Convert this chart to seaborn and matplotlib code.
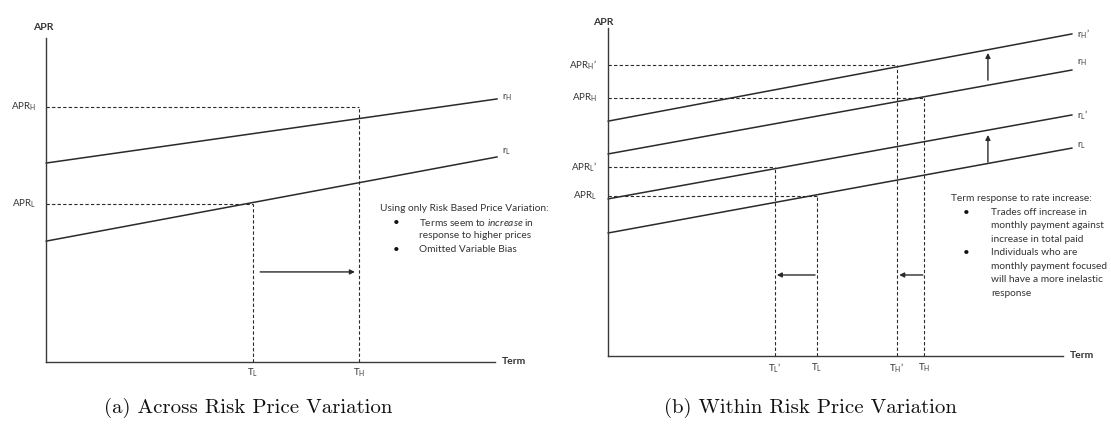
import matplotlib
matplotlib.use("Agg")
import matplotlib.pyplot as plt
import seaborn as sns
import pandas as pd

sns.set_theme(style="white")
plt.rcParams["font.family"] = ["Lato", "DejaVu Sans"]
plt.rcParams["mathtext.fontset"] = "custom"
plt.rcParams["mathtext.rm"] = "Lato"
plt.rcParams["mathtext.it"] = "Lato:italic"
plt.rcParams["mathtext.bf"] = "Lato:bold"

INK = "#2a2a2a"
TXT = "#333333"

# ---- Panel (a): across-risk price variation ----
a_term = [0, 100.5]
a_rH = [61.4, 81.2]
a_rL = [37.3, 63.3]
a_T = {"T_L": 46.1, "T_H": 69.7}
a_APR = {"APR_L": 48.8, "APR_H": 78.7}
a_arrow_y = 27.8
a_arrow_x = [47.7, 68.8]
a_note_title = "Using only Risk Based Price Variation:"
a_note_items = [["Terms seem to $\\it{increase}$ in", "response to higher prices"],
                ["Omitted Variable Bias"]]

# ---- Panel (b): within-risk price variation ----
b_term = [0, 102]
b_rH2 = [71.6, 98.2]
b_rH = [61.6, 87.2]
b_rL2 = [47.9, 73.5]
b_rL = [37.5, 63.4]
b_T = {"T_L2": 36.7, "T_L": 45.9, "T_H2": 63.5, "T_H": 69.5}
b_APR = {"APR_H2": 88.7, "APR_H": 78.7, "APR_L2": 57.6, "APR_L": 48.8}
b_up_x = 83.5
b_up_arrows = [[84.1, 92.4], [59.1, 67.4]]
b_left_y = 24.7
b_left_arrows = [[45.5, 37.1], [69.2, 64.0]]
b_note_title = "Term response to rate increase:"
b_note_items = [["Trades off increase in", "monthly payment against", "increase in total paid"],
                ["Individuals who are", "monthly payment focused",
                 "will have a more inelastic", "response"]]

captions = ["(a) Across Risk Price Variation", "(b) Within Risk Price Variation"]


def sub(base, s, prime=False):
    lab = r"$\mathregular{%s_{%s}}$" % (base, s)
    return lab + ("\u2019" if prime else "")


fig = plt.figure(figsize=(11.11, 4.26), dpi=100)
ax1 = fig.add_axes([46 / 1111, (426 - 362) / 426, 449 / 1111, 324 / 426])
ax2 = fig.add_axes([608 / 1111, (426 - 356) / 426, 455 / 1111, 328 / 426])

for ax in (ax1, ax2):
    ax.set_xlim(0, 100)
    ax.set_ylim(0, 100)
    ax.set_xticks([])
    ax.set_yticks([])
    for side in ("top", "right"):
        ax.spines[side].set_visible(False)
    for side in ("left", "bottom"):
        ax.spines[side].set_color("#3a3a3a")
        ax.spines[side].set_linewidth(1.0)
    ax.patch.set_alpha(0)

DASH = (0, (3, 2))


def rate_lines(ax, term, series):
    rows = []
    for name, vals in series.items():
        for t, v in zip(term, vals):
            rows.append({"line": name, "term": t, "apr": v})
    df = pd.DataFrame(rows)
    sns.lineplot(data=df, x="term", y="apr", units="line", estimator=None,
                 color=INK, lw=1.1, ax=ax, legend=False, clip_on=False)
    ax.set_xlabel("")
    ax.set_ylabel("")


def guides(ax, tx, ay):
    ax.plot([0, tx], [ay, ay], color=INK, lw=0.8, ls=DASH, clip_on=False)
    ax.plot([tx, tx], [0, ay], color=INK, lw=0.8, ls=DASH, clip_on=False)


def arrow(ax, start, end):
    ax.annotate("", xy=end, xytext=start,
                arrowprops=dict(arrowstyle="-|>", color=INK, lw=1.0,
                                mutation_scale=7, shrinkA=0, shrinkB=0))


def note(ax, x_title, x_bullet, x_text, y0, step, title, items, fs):
    ax.text(x_title, y0, title, fontsize=fs, color=TXT, va="center", ha="left")
    y = y0 - step
    for item in items:
        ax.text(x_bullet, y, "\u2022", fontsize=fs + 1, color="#111", va="center", ha="center")
        for line in item:
            ax.text(x_text, y, line, fontsize=fs, color=TXT, va="center", ha="left")
            y -= step


# ---------- panel (a) ----------
rate_lines(ax1, a_term, {"rH": a_rH, "rL": a_rL})
guides(ax1, a_T["T_L"], a_APR["APR_L"])
guides(ax1, a_T["T_H"], a_APR["APR_H"])
arrow(ax1, (a_arrow_x[0], a_arrow_y), (a_arrow_x[1], a_arrow_y))

ax1.text(-0.7, 103.1, "APR", fontsize=7.5, fontweight="bold", color=TXT, ha="center", va="center")
ax1.text(101.6, 0.3, "Term", fontsize=7.5, fontweight="bold", color=TXT, ha="left", va="center")
ax1.text(-2.2, a_APR["APR_H"], sub("APR", "H"), fontsize=7, color=TXT, ha="right", va="center")
ax1.text(-2.2, a_APR["APR_L"], sub("APR", "L"), fontsize=7, color=TXT, ha="right", va="center")
ax1.text(a_T["T_L"], -3.4, sub("T", "L"), fontsize=7, color=TXT, ha="center", va="center")
ax1.text(a_T["T_H"], -3.4, sub("T", "H"), fontsize=7, color=TXT, ha="center", va="center")
ax1.text(101.5, a_rH[1] + 0.3, sub("r", "H"), fontsize=7, color=TXT, ha="left", va="center")
ax1.text(101.5, a_rL[1] + 1.5, sub("r", "L"), fontsize=7, color=TXT, ha="left", va="center")
note(ax1, 74.4, 78.0, 83.1, 47.5, 4.3, a_note_title, a_note_items, 7.3)

# ---------- panel (b) ----------
rate_lines(ax2, b_term, {"rH2": b_rH2, "rH": b_rH, "rL2": b_rL2, "rL": b_rL})
guides(ax2, b_T["T_H2"], b_APR["APR_H2"])
guides(ax2, b_T["T_H"], b_APR["APR_H"])
guides(ax2, b_T["T_L2"], b_APR["APR_L2"])
guides(ax2, b_T["T_L"], b_APR["APR_L"])
for y_from, y_to in b_up_arrows:
    arrow(ax2, (b_up_x, y_from), (b_up_x, y_to))
for x_from, x_to in b_left_arrows:
    arrow(ax2, (x_from, b_left_y), (x_to, b_left_y))

ax2.text(-1.1, 101.8, "APR", fontsize=7.5, fontweight="bold", color=TXT, ha="center", va="center")
ax2.text(101.5, 0.3, "Term", fontsize=7.5, fontweight="bold", color=TXT, ha="left", va="center")
ax2.text(-2.4, b_APR["APR_H2"], sub("APR", "H", True), fontsize=7, color=TXT, ha="right", va="center")
ax2.text(-2.4, b_APR["APR_H"], sub("APR", "H"), fontsize=7, color=TXT, ha="right", va="center")
ax2.text(-2.4, b_APR["APR_L2"], sub("APR", "L", True), fontsize=7, color=TXT, ha="right", va="center")
ax2.text(-2.4, b_APR["APR_L"], sub("APR", "L"), fontsize=7, color=TXT, ha="right", va="center")
for key, lab in [("T_L2", sub("T", "L", True)), ("T_L", sub("T", "L")),
                 ("T_H2", sub("T", "H", True)), ("T_H", sub("T", "H"))]:
    ax2.text(b_T[key], -3.7, lab, fontsize=7, color=TXT, ha="center", va="center")
ax2.text(103.1, b_rH2[1], sub("r", "H", True), fontsize=7, color=TXT, ha="left", va="center")
ax2.text(103.1, 89.3, sub("r", "H"), fontsize=7, color=TXT, ha="left", va="center")
ax2.text(103.1, b_rL2[1], sub("r", "L", True), fontsize=7, color=TXT, ha="left", va="center")
ax2.text(103.1, 64.0, sub("r", "L"), fontsize=7, color=TXT, ha="left", va="center")
note(ax2, 75.4, 78.7, 84.2, 47.9, 4.12, b_note_title, b_note_items, 7.3)

# ---------- captions ----------
fig.text(248 / 1111, 1 - 408 / 426, captions[0], family="cmr10", fontsize=15,
         color="#111", ha="center", va="center")
fig.text(810 / 1111, 1 - 408 / 426, captions[1], family="cmr10", fontsize=15,
         color="#111", ha="center", va="center")

fig.savefig("out.png", dpi=100, facecolor="white")
